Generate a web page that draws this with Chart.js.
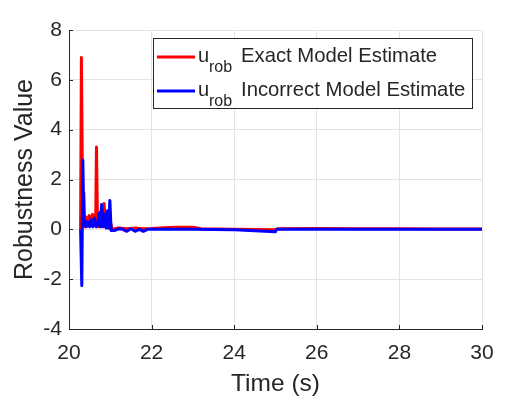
<!DOCTYPE html>
<html>
<head>
<meta charset="utf-8">
<script src="https://cdn.jsdelivr.net/npm/chart.js@4.4.1/dist/chart.umd.min.js"></script>
<style>
  html, body { margin: 0; padding: 0; background: #fff; }
  #wrap { width: 532px; height: 399px; }
</style>
</head>
<body>
<div id="wrap"><canvas id="robChart" width="532" height="399"></canvas></div>
<script>
// time stamps (s) and robustness values
const timeExact = [20.28, 20.30, 20.33, 20.36, 20.38, 20.41, 20.45, 20.49, 20.53, 20.57,
  20.61, 20.645, 20.665, 20.69, 20.72, 20.76, 20.80, 20.85, 20.88, 20.92,
  20.96, 21.0, 21.05, 21.2, 21.4, 21.6, 21.8, 22.0, 22.3, 22.6,
  23.0, 23.2, 24.0, 25.0, 25.05, 26, 27, 28, 29, 30];
const valExact = [0, 6.9, 1.0, 1.46, 0.1, 0.5, 0.2, 0.55, 0.3, 0.6,
  0.55, 0.2, 3.3, 0.3, 0.1, 0.7, 0.1, 1.04, 0.1, 0.4,
  0.05, 0.3, 0, 0.05, 0.02, 0.05, 0.02, 0.03, 0.06, 0.08,
  0.08, 0.02, 0.0, -0.02, 0.02, 0.03, 0.02, 0.02, 0.01, 0.01];

const timeIncorrect = [20.28, 20.31, 20.335, 20.36, 20.39, 20.42, 20.46, 20.50, 20.54, 20.58,
  20.62, 20.66, 20.70, 20.73, 20.76, 20.79, 20.83, 20.87, 20.90, 20.93,
  20.96, 20.99, 21.02, 21.1, 21.2, 21.3, 21.4, 21.5, 21.6, 21.7,
  21.8, 21.9, 22.0, 22.5, 23.0, 24.0, 25.0, 25.02, 26, 27,
  28, 29, 30];
const valIncorrect = [0, -2.26, 2.78, 0.15, 0.35, 0.1, 0.3, 0.1, 0.4, 0.1,
  0.45, 0.1, 0.2, 0.65, 0.1, 1.0, 0.1, 0.6, 0.05, 0.75,
  0.05, 1.16, -0.05, -0.05, 0.02, 0.0, -0.08, 0.02, -0.08, 0.0,
  -0.08, 0.0, 0.0, 0.0, 0.0, -0.02, -0.1, 0.0, 0.0, 0.0,
  0.0, 0.0, 0.0];

const seriesNames = ['Exact Model Estimate', 'Incorrect Model Estimate'];
const seriesColors = ['#ff0000', '#0000ff'];
const xTicks = [20, 22, 24, 26, 28, 30];
const yTicks = [-4, -2, 0, 2, 4, 6, 8];

const FONT = '"Liberation Sans", Arial, Helvetica, sans-serif';
const AXIS = '#262626';

function toPoints(xs, ys) {
  return xs.map((x, i) => ({ x: x, y: ys[i] }));
}

// MATLAB style inward tick marks
const tickMarks = {
  id: 'tickMarks',
  afterDatasetsDraw(chart) {
    const { ctx, chartArea, scales } = chart;
    ctx.save();
    ctx.strokeStyle = AXIS;
    ctx.lineWidth = 1;
    ctx.beginPath();
    xTicks.forEach(v => {
      const px = Math.round(scales.x.getPixelForValue(v)) + 0.5;
      ctx.moveTo(px, chartArea.bottom);
      ctx.lineTo(px, chartArea.bottom - 4);
    });
    yTicks.forEach(v => {
      const py = Math.round(scales.y.getPixelForValue(v)) + 0.5;
      ctx.moveTo(chartArea.left, py);
      ctx.lineTo(chartArea.left + 4, py);
    });
    ctx.stroke();
    ctx.restore();
  }
};

// legend box with the u_rob subscript
const robLegend = {
  id: 'robLegend',
  afterDraw(chart) {
    const ctx = chart.ctx;
    const box = { x: 153.5, y: 38.5, w: 319, h: 70 };
    ctx.save();
    ctx.fillStyle = '#fff';
    ctx.fillRect(box.x, box.y, box.w, box.h);
    ctx.strokeStyle = AXIS;
    ctx.lineWidth = 1;
    ctx.strokeRect(box.x, box.y, box.w, box.h);
    const rows = [57, 91];
    seriesNames.forEach((name, i) => {
      const y = rows[i];
      ctx.strokeStyle = seriesColors[i];
      ctx.lineWidth = 3;
      ctx.beginPath();
      ctx.moveTo(157, y);
      ctx.lineTo(195, y);
      ctx.stroke();
      ctx.fillStyle = AXIS;
      ctx.textBaseline = 'alphabetic';
      ctx.font = '20px ' + FONT;
      ctx.fillText('u', 198, y + 5);
      ctx.font = '16px ' + FONT;
      ctx.fillText('rob', 209, y + 15);
      ctx.font = '20.3px ' + FONT;
      ctx.fillText(name, 241, y + 5);
    });
    ctx.restore();
  }
};

new Chart(document.getElementById('robChart').getContext('2d'), {
  type: 'line',
  data: {
    datasets: [
      {
        label: seriesNames[0],
        data: toPoints(timeExact, valExact),
        borderColor: seriesColors[0],
        borderWidth: 3,
        borderJoinStyle: 'round',
        pointRadius: 0,
        tension: 0,
        fill: false,
        order: 1
      },
      {
        label: seriesNames[1],
        data: toPoints(timeIncorrect, valIncorrect),
        borderColor: seriesColors[1],
        borderWidth: 3,
        borderJoinStyle: 'round',
        pointRadius: 0,
        tension: 0,
        fill: false,
        order: 0
      }
    ]
  },
  options: {
    responsive: false,
    animation: false,
    layout: { padding: { top: 30, right: 50, left: 0, bottom: 0 } },
    plugins: {
      legend: { display: false },
      tooltip: { enabled: false }
    },
    scales: {
      x: {
        type: 'linear',
        min: 20,
        max: 30,
        afterBuildTicks: (s) => { s.ticks = xTicks.map(v => ({ value: v })); },
        afterFit: (s) => { s.height = 70; },
        grid: { color: '#e3e3e3', drawTicks: false },
        border: { color: AXIS, width: 1 },
        ticks: { color: AXIS, font: { family: FONT, size: 21 }, padding: 12, maxRotation: 0 },
        title: { display: true, text: 'Time (s)', color: AXIS, font: { family: FONT, size: 24.5 }, padding: 0 }
      },
      y: {
        min: -4,
        max: 8,
        afterBuildTicks: (s) => { s.ticks = yTicks.map(v => ({ value: v })); },
        afterFit: (s) => { s.width = 69; },
        grid: { color: '#e3e3e3', drawTicks: false },
        border: { color: AXIS, width: 1 },
        ticks: { color: AXIS, font: { family: FONT, size: 21 }, padding: 7 },
        title: { display: true, text: 'Robustness Value', color: AXIS, font: { family: FONT, size: 25 }, padding: { top: 10, bottom: 0 } }
      }
    }
  },
  plugins: [tickMarks, robLegend]
});
</script>
</body>
</html>
